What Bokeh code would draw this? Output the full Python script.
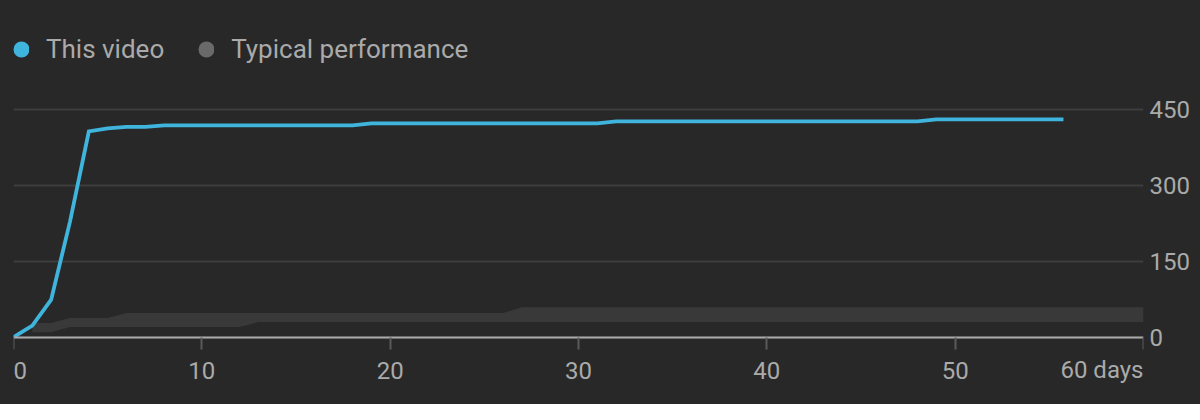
from bokeh.plotting import figure
from bokeh.models import Range1d, Legend, LegendItem, ColumnDataSource
from bokeh.core.properties import value
from bokeh.embed import file_html
from bokeh.resources import INLINE

# ---- data ----
series_names = ["This video", "Typical performance"]

video_days = [0, 1, 2, 3, 4, 5, 6, 7, 8, 9, 10, 11, 12, 13, 14, 15, 16, 17, 18,
              19, 20, 21, 22, 23, 24, 25, 26, 27, 28, 29, 30, 31,
              32, 33, 34, 35, 36, 37, 38, 39, 40, 41, 42, 43, 44, 45, 46, 47, 48,
              49, 50, 51, 52, 53, 54, 55, 55.75]
video_views = [0, 23, 74, 228, 406, 412, 415, 415, 418, 418, 418, 418, 418, 418, 418, 418, 418, 418, 418,
               422, 422, 422, 422, 422, 422, 422, 422, 422, 422, 422, 422, 422,
               426, 426, 426, 426, 426, 426, 426, 426, 426, 426, 426, 426, 426, 426, 426, 426, 426,
               430, 430, 430, 430, 430, 430, 430, 430]

typical_days = [1, 2, 3, 4, 5, 6, 7, 8, 9, 10, 11, 12, 13, 14, 15, 16, 17, 18, 19, 20,
                21, 22, 23, 24, 25, 26, 27, 28, 29, 30, 31, 32, 33, 34, 35, 36, 37, 38, 39, 40,
                41, 42, 43, 44, 45, 46, 47, 48, 49, 50, 51, 52, 53, 54, 55, 56, 57, 58, 59, 60]
typical_low = [10, 10, 20, 20, 20, 20, 20, 20, 20, 20, 20, 20, 30, 30, 30, 30, 30, 30, 30, 30,
               30, 30, 30, 30, 30, 30, 30, 30, 30, 30, 30, 30, 30, 30, 30, 30, 30, 30, 30, 30,
               30, 30, 30, 30, 30, 30, 30, 30, 30, 30, 30, 30, 30, 30, 30, 30, 30, 30, 30, 30]
typical_high = [28, 28, 38, 38, 38, 48, 48, 48, 48, 48, 48, 48, 48, 48, 48, 48, 48, 48, 48, 48,
                48, 48, 48, 48, 48, 48, 59, 59, 59, 59, 59, 59, 59, 59, 59, 59, 59, 59, 59, 59,
                59, 59, 59, 59, 59, 59, 59, 59, 59, 59, 59, 59, 59, 59, 59, 59, 59, 59, 59, 59]

x_ticks = [0, 10, 20, 30, 40, 50, 60]
x_tick_labels = ["0", "10", "20", "30", "40", "50", "60 days"]
y_ticks = [0, 150, 300, 450]

# ---- style ----
BG = "#282828"
BLUE = "#3fb4dc"
BAND = "#393939"
DOT_GREY = "#6a6a6a"
TEXT = "#aaaaaa"
FONT = "Roboto"
TICK_FS = "24px"
LEG_FS = "26px"
x_label_align = ["left", "center", "center", "center", "center", "center", "right"]

FRAME_H = 404
PX_PER_UNIT = 228 / 450      # vertical scale
ZERO_Y = 336.7               # screen y of value 0 (from frame top)
p = figure(frame_width=1130, frame_height=FRAME_H,
           x_range=Range1d(0, 60),
           y_range=Range1d(-(FRAME_H - ZERO_Y) / PX_PER_UNIT, ZERO_Y / PX_PER_UNIT),
           output_backend="svg", toolbar_location=None, tools="",
           y_axis_location="right",
           min_border_left=13, min_border_right=57, min_border_top=0, min_border_bottom=0,
           background_fill_color=BG, border_fill_color=BG)
p.outline_line_color = None
p.styles = {"background-color": BG}

# band (typical performance)
p.varea(x=typical_days, y1=typical_low, y2=typical_high, fill_color=BAND)
# this video line
p.line(x=video_days, y=video_views, line_color=BLUE, line_width=3.8, line_join="miter")

# legend renderers (hidden, only their legend dots are shown)
dot_video = p.scatter(x=video_days[:1], y=video_views[:1], size=16, marker="circle", fill_color=BLUE,
                      line_color=BLUE, line_width=9.6, visible=False)
dot_typ = p.scatter(x=typical_days[:1], y=typical_low[:1], size=16, marker="circle", fill_color=DOT_GREY,
                    line_color=DOT_GREY, line_width=9.6, visible=False)

legend = Legend(items=[LegendItem(label=series_names[0], renderers=[dot_video]),
                       LegendItem(label=series_names[1], renderers=[dot_typ])],
                orientation="horizontal", location=(0, FRAME_H - 29 - 40),
                glyph_width=16, glyph_height=40, label_standoff=17, spacing=34,
                padding=0, margin=0, border_line_color=None, background_fill_alpha=0,
                click_policy="none",
                label_text_font=FONT, label_text_font_size=LEG_FS, label_text_color=TEXT)
p.add_layout(legend, "center")

# x axis: line and ticks at y = 0
xa = p.xaxis[0]
xa.fixed_location = 0
xa.ticker = x_ticks
xa.major_label_overrides = {t: "" for t in x_ticks}
xa.major_label_text_font_size = "0px"
xa.major_label_standoff = 0
xa.axis_line_color = "#aaaaaa"
xa.axis_line_width = 2
xa.major_tick_line_color = "#5a5a5a"
xa.major_tick_line_width = 2
xa.major_tick_out = 12
xa.major_tick_in = 0
xa.minor_tick_line_color = None

# x tick labels (per-label alignment)
lab_src = ColumnDataSource(dict(x=x_ticks, y=[0] * len(x_ticks), text=x_tick_labels, align=x_label_align))
p.text(x="x", y="y", text="text", source=lab_src, text_align="align", text_baseline="alphabetic",
       y_offset=33, text_font=value(FONT), text_font_size=value(TICK_FS), text_color=TEXT)

# y axis (right)
ya = p.yaxis[0]
ya.ticker = y_ticks
ya.axis_line_color = None
ya.major_tick_line_color = None
ya.minor_tick_line_color = None
ya.major_tick_out = 0
ya.major_tick_in = 0
ya.major_label_text_font = FONT
ya.major_label_text_font_size = TICK_FS
ya.major_label_text_color = TEXT
ya.major_label_standoff = 6

p.xgrid.visible = False
p.ygrid.ticker = y_ticks
p.ygrid.grid_line_color = "#3d3d3d"
p.ygrid.grid_line_width = 2

open("out.html", "w").write(file_html(p, INLINE))
